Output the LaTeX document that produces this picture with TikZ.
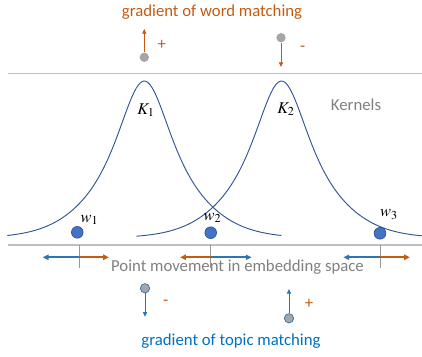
\documentclass[tikz,border=0pt]{standalone}
\usepackage{mathptmx}
\usepackage[no-math]{fontspec}
\setmainfont{Carlito}
\definecolor{wordorange}{RGB}{197,90,17}
\definecolor{topicblue}{RGB}{0,112,192}
\definecolor{arrowblue}{RGB}{46,117,182}
\definecolor{kernblue}{RGB}{47,85,151}
\definecolor{dotblue}{RGB}{68,114,196}
\definecolor{dotedge}{RGB}{47,82,143}
\definecolor{txtgray}{RGB}{128,128,128}
\definecolor{linegray}{RGB}{191,191,191}
\definecolor{dotgray}{RGB}{165,165,165}
\usetikzlibrary{arrows.meta}
\tikzset{
  lbl/.style={font=\fontsize{14.3}{17}\selectfont, inner sep=0pt, anchor=base},
  mth/.style={font=\fontsize{14}{17}\selectfont, inner sep=0pt, anchor=base},
}

\begin{document}
\begin{tikzpicture}[x=0.3mm, y=-0.3mm,
      declare function={kern(\t)=157.5/(1+(\t/37)*(\t/37)+((\t/75)*(\t/75))^3);},
      wdot/.style ={circle, draw=dotedge, fill=dotblue, line width=0.6pt,
                    minimum size=3.5mm, inner sep=0pt},
      gup/.style  ={circle, fill=dotgray, minimum size=2.8mm, inner sep=0pt},
      gdn/.style  ={circle, draw=arrowblue, fill=dotgray, line width=0.6pt,
                    minimum size=2.8mm, inner sep=0pt},
      vto/.style  ={-{Triangle[length=4pt,width=3.6pt]}, line width=0.7pt, wordorange},
      vtb/.style  ={-{Triangle[length=4pt,width=3.6pt]}, line width=0.7pt, arrowblue},
      mvo/.style  ={-{Triangle[length=5pt,width=4.5pt]}, line width=1.6pt, wordorange},
      mvb/.style  ={-{Triangle[length=5pt,width=4.5pt]}, line width=1.6pt, arrowblue},
      kern/.style ={kernblue, line width=0.8pt},
      rule/.style ={linegray, line width=0.9pt},
      tick/.style ={gray!80, line width=0.6pt}]
    \useasboundingbox (0,0) rectangle (422,356);

    % ── WORD MATCHING ───────────────────────────────────────
    \node[lbl, wordorange] (wtitle) at (212,16) {gradient of word matching};
    \node[gup] (g1) at (144.3,57.3) {}; \coordinate (g1a) at (144.3,29);
    \node[gup] (g2) at (281,37.7) {};   \coordinate (g2a) at (281,67);
    \draw[vto] (g1) -- (g1a);
    \draw[vto] (g2) -- (g2a);
    \node[lbl, wordorange, anchor=center] (plus1) at (161.7,45) {+};
    \node[lbl, wordorange, anchor=center] (minus1) at (302.7,49) {-};

    % ── KERNELS ─────────────────────────────────────────────
    \coordinate (ra) at (8,73.3);  \coordinate (rb) at (422,73.3);
    \draw[rule] (ra) -- (rb);
    \draw[kern] plot[domain=-137:137, samples=120] ({144.3+\x},{238.5-kern(\x)});
    \draw[kern] plot[domain=-145:141, samples=120] ({281.5+\x},{238.5-kern(\x)});
    \node[mth] (k1) at (146,114) {$K_1$};
    \node[mth] (k2) at (286,113) {$K_2$};
    \node[lbl, txtgray] (kl) at (356,110) {Kernels};

    % ── WORDS ───────────────────────────────────────────────
    \node[wdot] (w1) at (77.3,232.3) {};
    \node[wdot] (w2) at (210.7,232.7) {};
    \node[wdot] (w3) at (380,233.3) {};
    \node[mth] (lw1) at (89.5,222) {$w_1$};
    \node[mth] (lw2) at (212.5,220) {$w_2$};
    \node[mth] (lw3) at (389,216.7) {$w_3$};

    % ── EMBEDDING SPACE ─────────────────────────────────────
    \coordinate (sa) at (8,245);  \coordinate (sb) at (422,245);
    \draw[rule] (sa) -- (sb);
    \foreach \n/\x in {1/79,2/210.7,3/380}{
      \coordinate (t\n) at (\x,245); \coordinate (tb\n) at (\x,268);
      \coordinate (c\n) at (\x,257.3);
      \draw[tick] (t\n) -- (tb\n);
    }
    \coordinate (e1l) at (42.7,257.3);  \coordinate (e1r) at (109,257.3);
    \coordinate (e2l) at (180,257.3);   \coordinate (e2r) at (251.7,257.3);
    \coordinate (e3l) at (343.3,257.3); \coordinate (e3r) at (410,257.3);
    \draw[mvb] (c1) -- (e1l); \draw[mvo] (c1) -- (e1r);
    \draw[mvo] (c2) -- (e2l); \draw[mvb] (c2) -- (e2r);
    \draw[mvb] (c3) -- (e3l); \draw[mvo] (c3) -- (e3r);
    \node[lbl, txtgray] (es) at (237.5,271.7) {Point movement in embedding space};

    % ── TOPIC MATCHING ──────────────────────────────────────
    \node[gdn] (h1) at (145,288.3) {}; \coordinate (h1a) at (145,316.7);
    \node[gdn] (h2) at (289,318.3) {}; \coordinate (h2a) at (289,289);
    \draw[vtb] (h1) -- (h1a);
    \draw[vtb] (h2) -- (h2a);
    \node[lbl, wordorange, anchor=center] (minus2) at (165.7,302.7) {-};
    \node[lbl, wordorange, anchor=center] (plus2) at (309,304.3) {+};
    \node[lbl, topicblue] (ttitle) at (231,345.7) {gradient of topic matching};
  \end{tikzpicture}
\end{document}
